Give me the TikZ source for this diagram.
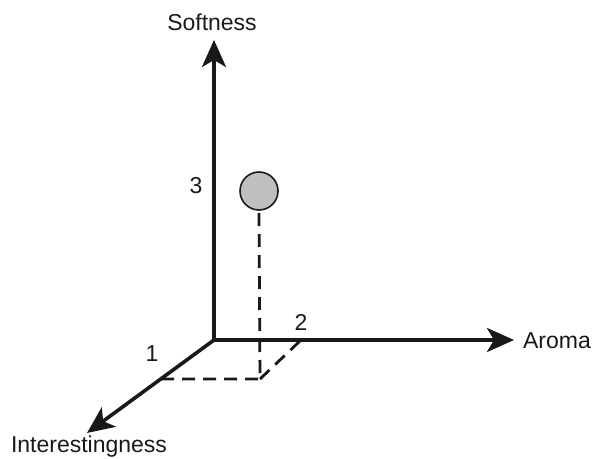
\documentclass[tikz,border=0pt]{standalone}
\usepackage{fontspec}
\setmainfont{Liberation Sans}
\usetikzlibrary{arrows.meta}
\begin{document}
\begin{tikzpicture}[x=0.5pt,y=-0.5pt,
  axis/.style={line width=1.8pt,-{Stealth[length=13.5pt,width=12pt,inset=3.5pt]},color=black!90},
  guide/.style={line width=1.4pt,dash pattern=on 6.5pt off 4pt,color=black!90},
  lbl/.style={font=\fontsize{11.5pt}{14pt}\selectfont,inner sep=0pt,color=black!90},
  ball/.style={circle,draw=black!90,line width=0.8pt,fill=black!25,minimum size=19pt,inner sep=0pt}]
\useasboundingbox (0,0) rectangle (593,459);
\coordinate (O) at (214,340);
\coordinate (S) at (214,40);
\coordinate (A) at (514,340);
\coordinate (I) at (87,433);
\coordinate (P1) at (161,379);
\coordinate (C) at (260,379);
\coordinate (P2) at (301,340);
\node[ball] (ball) at (259,191) {};
\draw[guide] (P1) -- (C) -- (ball.south);
\draw[guide] (C) -- (P2);
\draw[axis] (O) -- (S);
\draw[axis] (O) -- (A);
\draw[axis] (O) -- (I);
\node[lbl] (soft) at (212,22) {Softness};
\node[lbl] (aroma) at (557,341) {Aroma};
\node[lbl] (inter) at (89,447) {Interestingness};
\node[lbl] (three) at (196,186) {3};
\node[lbl] (two) at (301,322) {2};
\node[lbl] (one) at (152,354) {1};
\end{tikzpicture}
\end{document}
